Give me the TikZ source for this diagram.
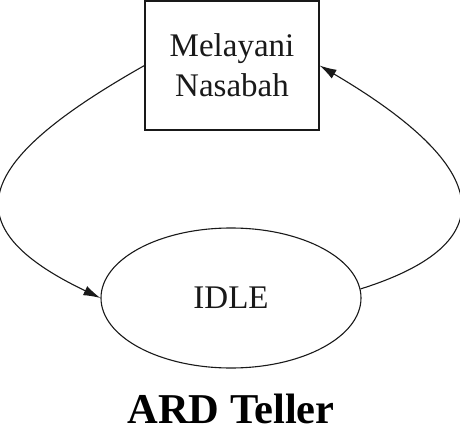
\documentclass[tikz,border=0pt]{standalone}
\usepackage{fontspec}
\setmainfont{Liberation Serif}
\usetikzlibrary{shapes.geometric,arrows.meta}
\begin{document}
\begin{tikzpicture}[x=1pt,y=-1pt,
  line/.style={draw=black!90,line width=1.1pt},
  arr/.style={line,-{Latex[length=17pt,width=10pt]}},
  lbl/.style={font=\fontsize{33}{40}\selectfont,text=black!90}]
\useasboundingbox (0,0) rectangle (460,438);
\node[line,lbl,rectangle,minimum width=174pt,minimum height=129pt,inner sep=0pt,align=center] (b) at (232,65.5) {Melayani\\Nasabah};
\node[line,lbl,ellipse,minimum width=260pt,minimum height=140pt,inner sep=0pt] (e) at (231,298) {IDLE};
\node[font=\fontsize{42.5}{48}\selectfont\bfseries,anchor=base] (t) at (231,423) {ARD Teller};
\draw[arr] (b.west) .. controls +(-167,94.5) and +(-153,-73) .. (e.west);
\draw[arr] (e.4) .. controls +(134,-42) and +(186,109.5) .. (b.east);
\end{tikzpicture}
\end{document}
